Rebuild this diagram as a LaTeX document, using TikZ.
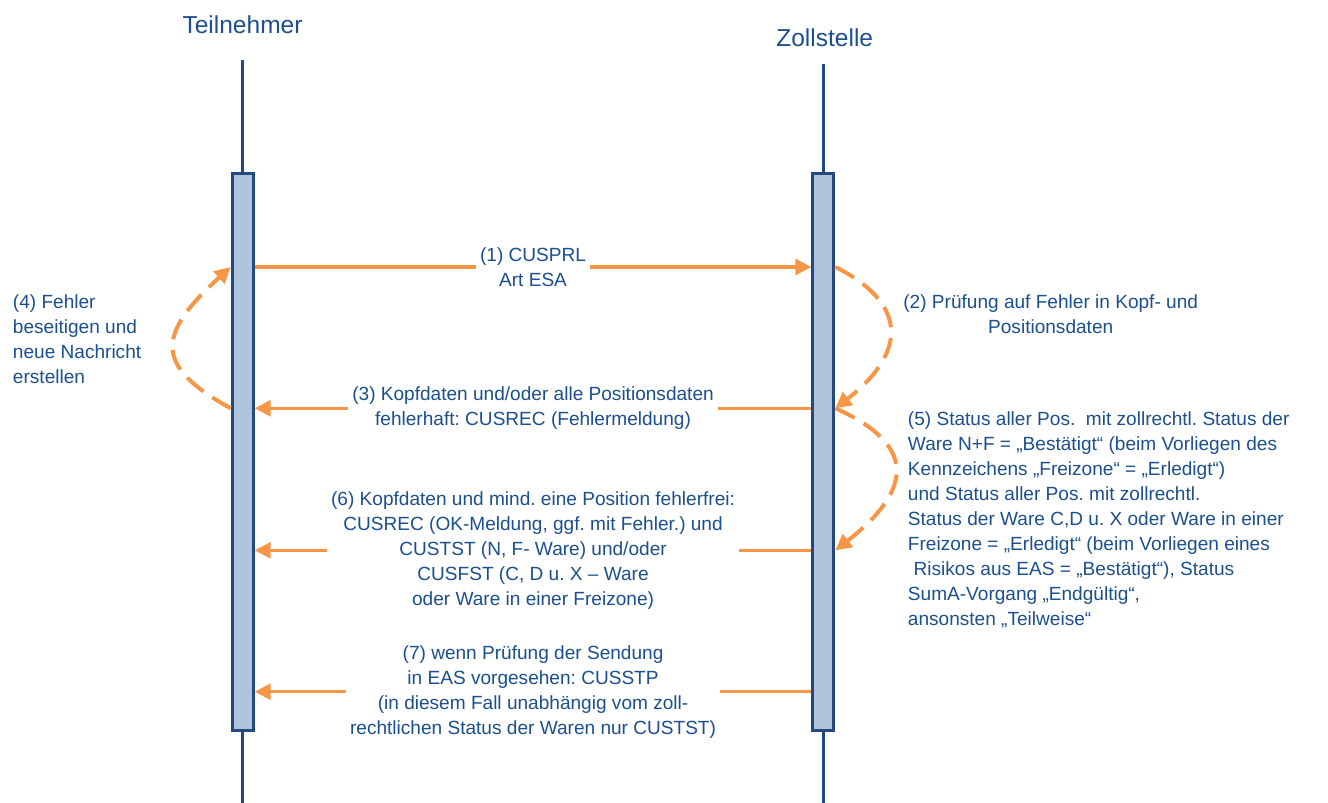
\documentclass[tikz,border=0pt]{standalone}
\usepackage{fontspec}
\setmainfont{Liberation Sans}
\usetikzlibrary{arrows.meta}
\frenchspacing
\definecolor{textblue}{HTML}{1B4F8E}
\definecolor{lineblue}{HTML}{24497F}
\definecolor{boxfill}{HTML}{B0C4DE}
\definecolor{arroworange}{HTML}{F79646}
\newcommand\dbody{\fontsize{14.3pt}{18.75pt}\selectfont}
\newcommand\dhead{\fontsize{18.4pt}{22pt}\selectfont}
\tikzset{
  lifeline/.style={draw=lineblue, line width=2.6pt},
  actbox/.style={draw=lineblue, fill=boxfill, line width=2.3pt, minimum width=15.7pt, minimum height=417.9pt, inner sep=0pt},
  msg/.style={draw=arroworange, line width=2.3pt, -{Triangle[length=12pt,width=12pt]}},
  selfmsg/.style={draw=arroworange, line width=3pt, dash pattern=on 16pt off 8pt, -{Triangle[length=12pt,width=12pt]}},
  lbl/.style={fill=white, text=textblue, align=center, font=\dbody, inner xsep=3pt, inner ysep=1pt},
  note/.style={text=textblue, font=\dbody, inner sep=0pt},
  head/.style={text=textblue, font=\dhead, inner sep=0pt, anchor=base}
}
\begin{document}
\begin{tikzpicture}[x=0.75pt, y=-0.75pt]
\useasboundingbox (0,0) rectangle (1328,803);
% headings
\node[head] (tn) at (242.5,33.3) {Teilnehmer};
\node[head] (zs) at (824.7,46.7) {Zollstelle};
% lifelines
\coordinate (ltop) at (242.7,60);
\coordinate (lbot) at (242.7,803);
\coordinate (rtop) at (823.4,64);
\coordinate (rbot) at (823.4,803);
\draw[lifeline] (ltop) -- (lbot);
\draw[lifeline] (rtop) -- (rbot);
% activation boxes
\node[actbox] (lbox) at (242.7,451.85) {};
\node[actbox] (rbox) at (823.4,451.85) {};
% message levels
\coordinate (a1) at (0,267);
\coordinate (a3) at (0,408.3);
\coordinate (a6) at (0,550.3);
\coordinate (a7) at (0,691.7);
% messages
\draw[msg] (lbox.east |- a1) -- node[lbl] {(1) CUSPRL\\Art ESA} (rbox.west |- a1);
\draw[msg] (rbox.west |- a3) -- node[lbl] {(3) Kopfdaten und/oder alle Positionsdaten\\fehlerhaft: CUSREC (Fehlermeldung)} (lbox.east |- a3);
\draw[msg] (rbox.west |- a6) -- node[lbl] {(6) Kopfdaten und mind. eine Position fehlerfrei:\\CUSREC (OK-Meldung, ggf. mit Fehler.) und\\CUSTST (N, F- Ware) und/oder\\CUSFST (C, D u. X – Ware\\oder Ware in einer Freizone)} (lbox.east |- a6);
\draw[msg] (rbox.west |- a7) -- node[lbl] {(7) wenn Prüfung der Sendung\\in EAS vorgesehen: CUSSTP\\(in diesem Fall unabhängig vom zoll-\\rechtlichen Status der Waren nur CUSTST)} (lbox.east |- a7);
% self loops
\draw[selfmsg] (rbox.east |- a1) .. controls (905,302) and (910,350) .. (rbox.east |- a3);
\draw[selfmsg] (rbox.east |- a3) .. controls (915,444) and (915,488) .. (rbox.east |- a6);
\draw[selfmsg] (lbox.west |- a3) .. controls (154,366) and (156,335) .. (lbox.west |- a1);
% notes
\node[note, align=left, anchor=north west] (n4) at (12.7,294) {(4) Fehler\\beseitigen und\\neue Nachricht\\erstellen};
\node[note, align=center, anchor=north] (n2) at (1050.7,294.3) {(2) Prüfung auf Fehler in Kopf- und\\Positionsdaten};
\node[note, align=left, anchor=north west] (n5) at (907.7,411) {(5) Status aller Pos.~ mit zollrechtl. Status der\\Ware N+F = „Bestätigt“ (beim Vorliegen des\\Kennzeichens „Freizone“ = „Erledigt“)\\und Status aller Pos. mit zollrechtl.\\Status der Ware C,D u. X oder Ware in einer\\Freizone = „Erledigt“ (beim Vorliegen eines\\\hspace*{0.3em}Risikos aus EAS = „Bestätigt“), Status\\SumA-Vorgang „Endgültig“,\\ansonsten „Teilweise“};
\end{tikzpicture}
\end{document}
